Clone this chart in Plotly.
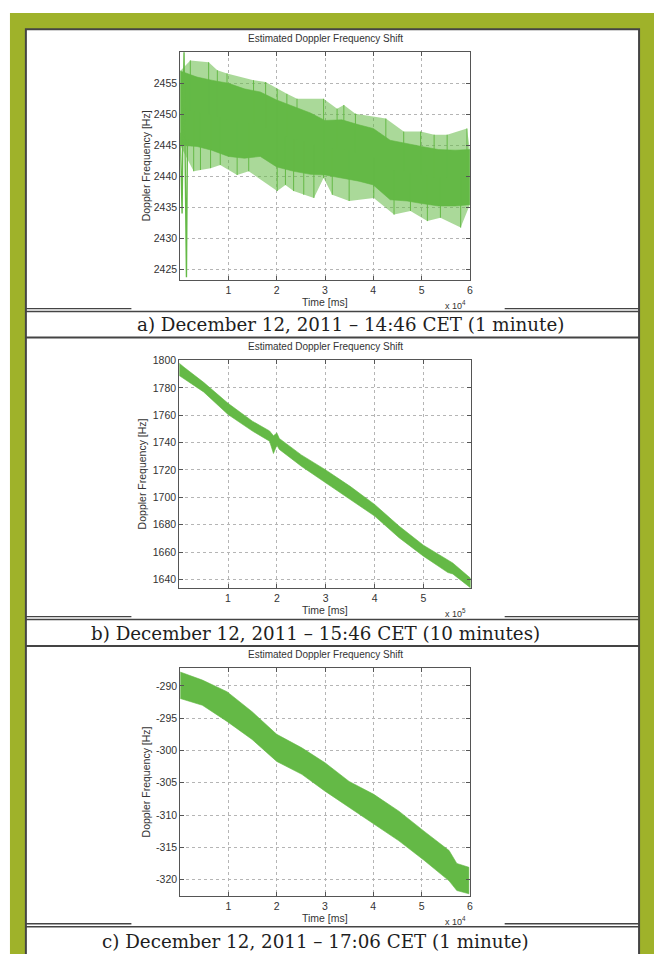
import plotly.graph_objects as go
import numpy as np

W, H = 657, 954

# ---------------- data (time in ms, Doppler shift in Hz) ----------------
# a) 14:46 CET, 1 minute
a_core_t = [0, 3500, 6500, 10000, 13300, 16600, 20000, 23500, 27000, 30000,
            33500, 37000, 40000, 43500, 47000, 50000, 53500, 57000, 60000]
a_core_hi = [2457.0, 2456.0, 2455.5, 2455.0, 2454.1, 2453.6, 2452.3, 2451.2, 2450.2, 2449.0,
             2449.1, 2448.3, 2447.7, 2445.8, 2445.2, 2444.8, 2444.3, 2444.2, 2444.3]
a_core_lo = [2445.0, 2444.8, 2444.2, 2443.2, 2442.9, 2443.2, 2441.5, 2440.8, 2440.3, 2440.2,
             2439.7, 2439.2, 2438.6, 2436.2, 2436.0, 2435.6, 2435.2, 2435.2, 2435.4]
a_up_t = [2100, 5900, 7700, 9700, 15200, 17700, 20100, 22100, 24200, 29700,
          32500, 33900, 36300, 42600, 46300, 49800, 52600, 55300, 59400]
a_up_f = [2458.7, 2458.4, 2457.1, 2456.6, 2455.5, 2455.2, 2454.1, 2453.3, 2452.5, 2452.5,
          2450.9, 2451.5, 2450.1, 2449.3, 2447.2, 2447.2, 2446.7, 2446.7, 2447.7]
a_dn_t = [2800, 4200, 6300, 8300, 11800, 14200, 20100, 21800, 23500, 25600,
          27700, 29700, 31500, 35000, 40100, 44300, 47700, 51200, 53900, 58100]
a_dn_f = [2440.8, 2441.0, 2441.3, 2441.8, 2440.2, 2440.8, 2437.6, 2438.6, 2437.6, 2437.0,
          2436.5, 2439.7, 2437.0, 2436.0, 2436.5, 2433.8, 2434.4, 2432.75, 2433.3, 2431.7]
a_tr_t = [0, 400, 600, 800, 1000, 1300, 1500]
a_tr_f = [2447, 2434, 2450, 2460, 2445, 2423.7, 2446]

# b) 15:46 CET, 10 minutes
b_t = [0, 10000, 50000, 100000, 150000, 185000, 193000, 200000, 205000, 250000,
       300000, 350000, 400000, 450000, 500000, 550000, 560000, 596000]
b_hi = [1798, 1795, 1784, 1768.7, 1755.6, 1748.5, 1745, 1747, 1743, 1731,
        1720, 1708, 1694.8, 1679, 1665, 1653.8, 1652, 1641]
b_lo = [1789, 1787, 1777, 1760.5, 1748.4, 1741, 1732, 1738, 1735, 1722.7,
        1710.5, 1698.4, 1686.3, 1670.5, 1657, 1645, 1644, 1634]

# c) 17:06 CET, 1 minute
c_t = [0, 4600, 9700, 14900, 20000, 25200, 30000, 35000, 40100, 45300,
       50500, 55700, 57300, 59800]
c_hi = [-287.85, -289.1, -290.9, -294.0, -297.5, -299.6, -301.9, -304.8, -306.8, -309.4,
        -312.5, -315.5, -317.5, -318.1]
c_lo = [-291.95, -293.0, -295.5, -298.3, -301.7, -303.7, -306.3, -308.9, -311.4, -314.0,
        -317.0, -320.2, -321.7, -322.2]

captions = ["a) December 12, 2011 – 14:46 CET (1 minute)",
            "b) December 12, 2011 – 15:46 CET (10 minutes)",
            "c) December 12, 2011 – 17:06 CET (1 minute)"]
title_txt = "Estimated Doppler Frequency Shift"
ylab = "Doppler Frequency [Hz]"
xlab = "Time [ms]"

a_xticks = [10000, 20000, 30000, 40000, 50000, 60000]
b_xticks = [100000, 200000, 300000, 400000, 500000]
c_xticks = [10000, 20000, 30000, 40000, 50000, 60000]
a_yticks = [2425, 2430, 2435, 2440, 2445, 2450, 2455]
b_yticks = [1640, 1660, 1680, 1700, 1720, 1740, 1760, 1780, 1800]
c_yticks = [-320, -315, -310, -305, -300, -295, -290]

# ---------------- styling ----------------
GREEN = '#64b946'
HALO = 'rgba(100,185,70,0.55)'
OLIVE = '#9fb22a'
FRAME = '#444444'
SANS = 'Liberation Sans'
SERIF = 'DejaVu Serif'


def px(x):
    return x / W


def py(y):
    return 1 - y / H


fig = go.Figure()


def band(t, hi, lo, xa, ya, color=GREEN):
    fig.add_trace(go.Scatter(x=list(t) + list(t)[::-1], y=list(hi) + list(lo)[::-1],
                             fill='toself', fillcolor=color, mode='lines',
                             line=dict(color=color, width=0.6), xaxis=xa, yaxis=ya,
                             hoverinfo='skip', showlegend=False))


# panel a: halo of spikes, core, spikes, transient
halo_t = [a_core_t[0]] + a_up_t + [a_core_t[-1], a_core_t[-1]] + a_dn_t[::-1] + [a_core_t[0]]
halo_f = [a_core_hi[0]] + a_up_f + [a_core_hi[-1], a_core_lo[-1]] + a_dn_f[::-1] + [a_core_lo[0]]
fig.add_trace(go.Scatter(x=halo_t, y=halo_f, fill='toself', fillcolor=HALO, mode='lines',
                         line=dict(width=0), xaxis='x', yaxis='y', hoverinfo='skip',
                         showlegend=False))
band(a_core_t, a_core_hi, a_core_lo, 'x', 'y')
mid = (np.array(a_core_hi) + np.array(a_core_lo)) / 2
sx, sy = [], []
for t, f in list(zip(a_up_t, a_up_f)) + list(zip(a_dn_t, a_dn_f)):
    base = float(np.interp(t, a_core_t, mid))
    sx += [t, t, None]
    sy += [f, base, None]
fig.add_trace(go.Scatter(x=sx, y=sy, mode='lines', line=dict(color=GREEN, width=1),
                         xaxis='x', yaxis='y', hoverinfo='skip', showlegend=False))
fig.add_trace(go.Scatter(x=a_tr_t, y=a_tr_f, mode='lines', line=dict(color=GREEN, width=1.4),
                         xaxis='x', yaxis='y', hoverinfo='skip', showlegend=False))

band(b_t, b_hi, b_lo, 'x2', 'y2')
band(c_t, c_hi, c_lo, 'x3', 'y3')

axis_common = dict(showline=True, linecolor='#555', linewidth=1, mirror='ticks',
                   ticks='inside', ticklen=4, tickcolor='#555', showgrid=True,
                   gridcolor='#b5b5b5', griddash='dot', gridwidth=1, zeroline=False,
                   tickfont=dict(family=SANS, size=10.5, color='#333'))

# axes boxes in pixel coordinates: (left, top, right, bottom)
boxes = [(181, 46, 472, 276), (180, 356, 473, 586), (181, 666, 472, 896)]
xr = [[0, 60000], [0, 597000], [0, 60000]]
yr = [[2423.2, 2460.1], [1633.5, 1800.5], [-322.6, -287.2]]
xt = [a_xticks, b_xticks, c_xticks]
xscale = [1e4, 1e5, 1e4]
yt = [a_yticks, b_yticks, c_yticks]

layout = {}
for i, (l, t, r, b) in enumerate(boxes):
    sfx = '' if i == 0 else str(i + 1)
    layout['xaxis' + sfx] = dict(axis_common, domain=[px(l), px(r)], range=xr[i],
                                 tickvals=xt[i],
                                 ticktext=[f"{v / xscale[i]:g}" for v in xt[i]],
                                 anchor='y' + sfx)
    layout['yaxis' + sfx] = dict(axis_common, domain=[py(b), py(t)], range=yr[i],
                                 tickvals=yt[i], ticktext=[str(v) for v in yt[i]],
                                 anchor='x' + sfx)

ann = []


def text(s, x, y, size, family=SANS, color='#333', angle=0, xa='center', ya='middle'):
    ann.append(dict(text=s, x=px(x), y=py(y), xref='paper', yref='paper', showarrow=False,
                    font=dict(size=size, family=family, color=color), textangle=angle,
                    xanchor=xa, yanchor=ya))


title_y = [33, 343, 653]
ylab_x = [147, 143, 147]
xlab_y = [298, 608, 918]
exp_y = [301, 611, 921]
exps = ['4', '5', '4']
for i, (l, t, r, b) in enumerate(boxes):
    cx = (l + r) / 2
    text(title_txt, cx, title_y[i], 10)
    text(ylab, ylab_x[i], (t + b) / 2, 10.5, angle=-90)
    text(xlab, cx, xlab_y[i], 10.5)
    text(f"x 10<sup>{exps[i]}</sup>", 458, exp_y[i], 9)

cap_cx = [352, 317, 317]
cap_cy = [321, 631, 941]
for i in range(3):
    text(captions[i], cap_cx[i], cap_cy[i], 18.3, family=SERIF, color='#1e1e1e')

shapes = []
shapes.append(dict(type='rect', xref='paper', yref='paper', x0=px(10), x1=px(657),
                   y0=py(954), y1=py(7), fillcolor=OLIVE, line=dict(width=0), layer='below'))
shapes.append(dict(type='rect', xref='paper', yref='paper', x0=px(26), x1=px(642),
                   y0=py(956), y1=py(23.5), fillcolor='white', line=dict(color=FRAME, width=2),
                   layer='below'))


def hline(y, x0, x1, w=1.6):
    shapes.append(dict(type='line', xref='paper', yref='paper', x0=px(x0), x1=px(x1),
                       y0=py(y), y1=py(y), line=dict(color=FRAME, width=w)))


for top, bot in [(307.5, 333.5), (617.5, 644), (926.5, None)]:
    hline(top - 3, 26, 132, 1.4)
    hline(top - 3, 507, 642, 1.4)
    hline(top, 26, 642, 1.5)
    if bot is not None:
        hline(bot, 26, 642, 2)

fig.update_layout(width=W, height=H, margin=dict(l=0, r=0, t=0, b=0),
                  paper_bgcolor='white', plot_bgcolor='white', showlegend=False,
                  annotations=ann, shapes=shapes, **layout)

fig.write_html("out.html", config={'displayModeBar': False},
               post_script="document.body.style.margin='0';"
                           "document.body.style.overflow='hidden';")
